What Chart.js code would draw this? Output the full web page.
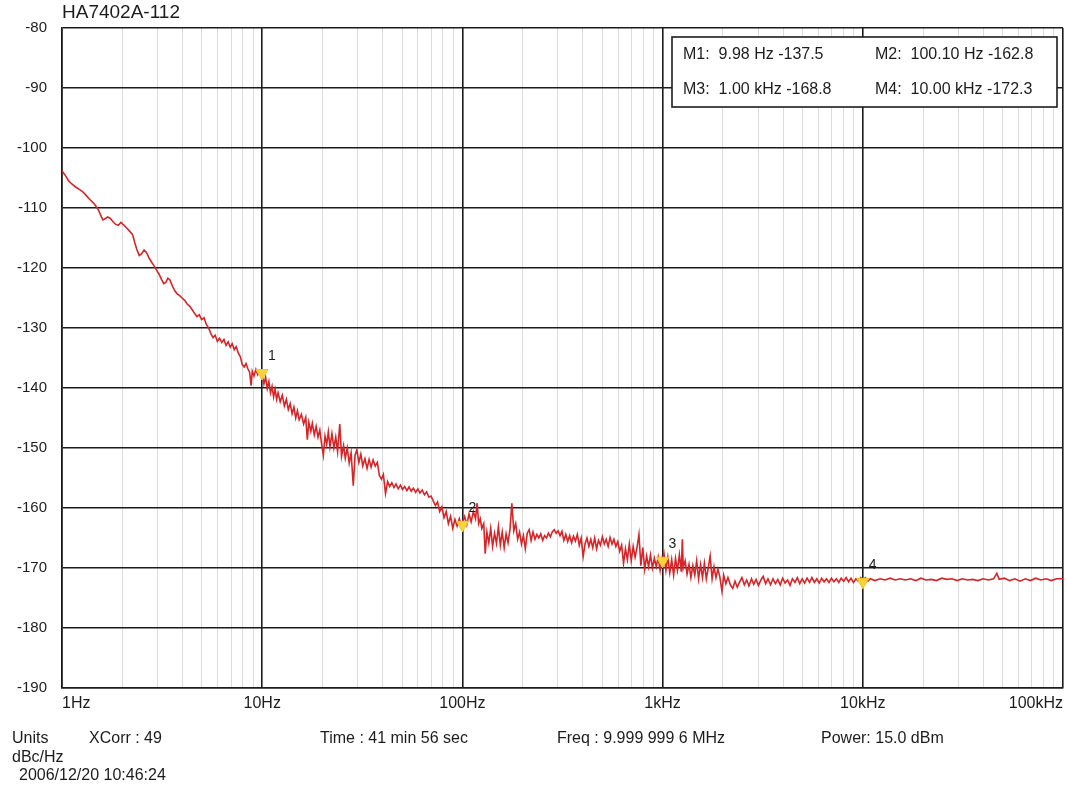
<!DOCTYPE html>
<html>
<head>
<meta charset="utf-8">
<script src="https://cdn.jsdelivr.net/npm/chart.js@4/dist/chart.umd.min.js"></script>
<style>
  body { margin: 0; background: #fff; }
</style>
</head>
<body>
<canvas id="grafico" width="1067" height="785"></canvas>
<script>
const freqHz = [
  1.00, 1.04, 1.08, 1.12, 1.17, 1.22, 1.27, 1.32, 1.37, 1.42, 1.47, 1.52, 1.56, 1.60, 1.64, 1.69, 1.74, 1.79, 1.85, 1.91,
  1.97, 2.03, 2.10, 2.18, 2.25, 2.31, 2.37, 2.43, 2.50, 2.57, 2.64, 2.72, 2.80, 2.88, 2.96, 3.05, 3.14, 3.22, 3.30, 3.38,
  3.46, 3.56, 3.66, 3.76, 3.87, 3.98, 4.10, 4.22, 4.35, 4.48, 4.60, 4.72, 4.85, 4.98, 5.12, 5.26, 5.40, 5.55, 5.68, 5.82,
  5.97, 6.12, 6.28, 6.44, 6.60, 6.76, 6.92, 7.08, 7.25, 7.42, 7.60, 7.78, 7.95, 8.12, 8.30, 8.48, 8.66, 8.80, 8.92, 9.10,
  9.30, 9.50, 9.70, 9.98, 10.2, 10.4, 10.6, 10.8, 11.0, 11.2, 11.4, 11.6, 11.8, 12.0, 12.3, 12.6, 12.9, 13.2, 13.5, 13.8,
  14.1, 14.4, 14.7, 15.0, 15.3, 15.7, 16.1, 16.5, 16.8, 17.1, 17.5, 17.8, 18.2, 18.6, 19.0, 19.4, 19.8, 20.2, 20.6, 21.0,
  21.4, 21.8, 22.3, 22.8, 23.3, 23.8, 24.4, 24.9, 25.5, 26.0, 26.6, 27.2, 27.8, 28.5, 29.1, 29.7, 30.4, 31.1, 31.8, 32.6,
  33.4, 34.2, 35.0, 35.8, 36.7, 37.6, 38.5, 39.4, 40.3, 41.3, 42.3, 43.3, 44.4, 45.5, 46.6, 47.8, 49.0, 50.2, 51.5, 52.8,
  54.1, 55.5, 56.9, 58.4, 59.9, 61.4, 63.0, 64.6, 66.3, 68.0, 69.7, 71.5, 73.3, 75.1, 77.0, 79.0, 81.0, 83.0, 85.1, 87.3,
  89.5, 91.8, 94.1, 96.5, 98.9, 100.1, 102.6, 105.2, 107.9, 110.6, 113.4, 116.3, 118.5, 120.5, 122.8, 125.0, 127.8, 130.0, 132.5, 135.5,
  138.5, 141.5, 144.8, 148.0, 151.3, 154.7, 158.1, 161.7, 165.3, 169.0, 172.8, 176.6, 180.6, 184.6, 188.7, 193.0, 197.3, 201.7, 206.2, 210.8,
  215.5, 220.4, 225.3, 230.4, 235.5, 240.8, 246.2, 251.7, 257.4, 263.1, 269.0, 275.1, 281.2, 287.5, 294.0, 300.6, 307.3, 314.2, 321.2, 328.4,
  335.8, 343.3, 351.0, 358.8, 366.9, 375.1, 383.5, 392.1, 400.9, 409.8, 419.0, 428.4, 438.0, 447.8, 457.8, 468.0, 478.5, 489.2, 500.2, 511.4,
  522.8, 534.5, 546.5, 558.7, 571.2, 584.0, 597.1, 610.5, 624.1, 638.1, 652.4, 667.0, 681.9, 697.2, 712.8, 728.8, 745.1, 761.8, 778.8, 796.3,
  814.1, 832.3, 851.0, 870.0, 889.5, 909.4, 929.8, 950.6, 971.9, 993.7, 1000, 1016, 1039, 1062, 1086, 1110, 1135, 1160, 1186, 1213,
  1240, 1255, 1268, 1296, 1325, 1355, 1385, 1416, 1448, 1480, 1513, 1547, 1582, 1617, 1653, 1690, 1728, 1767, 1806, 1847,
  1888, 1930, 1980, 2020, 2070, 2120, 2180, 2240, 2300, 2360, 2420, 2490, 2560, 2630, 2700, 2780, 2850, 2930, 3010, 3100,
  3180, 3270, 3360, 3460, 3560, 3660, 3760, 3870, 3980, 4090, 4210, 4330, 4450, 4580, 4710, 4840, 4980, 5120, 5270, 5420,
  5570, 5730, 5890, 6060, 6230, 6410, 6590, 6780, 6970, 7170, 7380, 7590, 7800, 8030, 8260, 8490, 8730, 8980, 9240, 9500,
  9770, 10000, 10300, 10600, 10900, 11500, 12200, 12900, 13700, 14500, 15400, 16300, 17300, 18400, 19500, 20700, 22000, 23300, 24800, 26300,
  27900, 29600, 31400, 33400, 35400, 37600, 39900, 42400, 45000, 46700, 48000, 51000, 54100, 57500, 61000, 64800, 68800, 73000, 77500, 82300,
  87400, 92800, 100000
];
const phaseNoise = [
  -103.8, -104.6, -105.5, -106.0, -106.5, -106.9, -107.3, -107.9, -108.5, -109.0, -109.6, -110.3, -111.2, -112.0, -111.8, -111.5, -111.7, -112.2, -112.7, -112.9,
  -112.4, -112.8, -113.3, -113.9, -114.4, -115.8, -117.0, -117.9, -117.6, -117.0, -117.4, -118.3, -119.0, -119.6, -120.3, -121.0, -121.9, -122.6, -122.4, -121.7,
  -122.0, -123.0, -123.8, -124.3, -124.6, -125.0, -125.4, -126.0, -126.4, -127.0, -127.6, -128.1, -127.8, -128.6, -128.3, -129.4, -130.0, -131.0, -131.6, -131.2,
  -132.2, -131.7, -132.4, -131.9, -132.9, -132.3, -133.2, -132.6, -133.6, -133.1, -134.2, -134.8, -136.1, -136.5, -135.9, -136.8, -137.4, -139.6, -137.2, -138.0,
  -136.9, -137.8, -137.2, -137.6, -139.3, -138.2, -140.1, -138.9, -140.8, -139.7, -141.5, -140.2, -141.9, -140.8, -142.3, -141.2, -143.0, -141.9, -143.6, -142.6,
  -144.3, -143.2, -145.0, -143.8, -145.3, -144.4, -146.0, -144.9, -148.6, -145.7, -147.2, -145.9, -147.8, -146.4, -148.2, -147.0, -149.3, -151.2, -148.0, -149.4,
  -147.3, -149.8, -147.6, -150.0, -148.2, -150.6, -146.0, -151.4, -149.6, -151.7, -150.0, -152.5, -150.8, -156.3, -151.2, -150.3, -152.4, -151.0, -153.0, -151.8,
  -153.4, -151.9, -153.2, -152.0, -153.0, -152.4, -154.6, -155.2, -154.4, -157.6, -155.6, -156.4, -155.8, -156.6, -156.0, -156.8, -156.2, -156.9, -156.4, -157.1,
  -156.5, -157.2, -156.7, -157.4, -156.8, -157.5, -157.0, -157.8, -157.3, -158.2, -158.0, -158.8, -159.6, -159.0, -160.6, -159.8, -161.6, -160.6, -162.6, -161.4,
  -163.4, -161.9, -163.0, -161.8, -163.0, -162.4, -161.4, -162.8, -161.0, -162.3, -160.6, -161.8, -159.2, -162.6, -161.8, -163.4, -162.6, -167.6, -164.0, -165.8,
  -163.4, -166.4, -164.2, -165.9, -163.1, -166.2, -164.0, -166.6, -164.3, -165.8, -163.6, -159.2, -163.8, -162.6, -165.2, -164.0, -166.0, -164.6, -166.8, -164.2,
  -163.6, -165.4, -164.0, -165.2, -164.4, -165.0, -164.3, -165.4, -164.6, -165.0, -164.2, -164.8, -164.0, -163.6, -164.2, -163.8, -164.6, -163.9, -165.4, -164.4,
  -165.6, -164.6, -165.8, -164.7, -165.5, -164.4, -166.2, -165.0, -168.1, -166.0, -165.0, -166.4, -165.2, -166.6, -165.0, -166.8, -165.4, -166.2, -164.8, -166.0,
  -165.2, -166.4, -164.9, -166.0, -165.2, -166.4, -165.6, -167.2, -166.2, -169.2, -166.8, -168.6, -166.0, -168.8, -166.4, -168.2, -166.6, -164.4, -169.6, -166.6,
  -170.2, -168.0, -169.8, -167.8, -170.0, -168.4, -169.8, -168.2, -170.4, -168.4, -168.8, -167.6, -170.4, -168.2, -170.8, -168.6, -171.2, -168.4, -170.4, -167.8,
  -170.6, -165.2, -170.0, -168.8, -171.0, -169.4, -171.6, -169.6, -171.2, -168.8, -171.8, -169.4, -171.6, -169.2, -171.8, -170.0, -168.0, -171.8, -169.8, -171.6,
  -170.2, -171.4, -173.9, -171.2, -172.6, -171.6, -172.8, -173.4, -172.2, -173.2, -172.4, -171.6, -172.8, -172.0, -173.0, -171.8, -172.7, -171.9, -172.9, -172.0,
  -171.4, -172.6, -171.8, -172.8, -171.8, -172.6, -171.9, -172.8, -171.7, -172.5, -172.0, -172.9, -171.8, -172.4, -171.6, -172.6, -171.8, -172.5, -171.7, -172.4,
  -171.6, -172.4, -171.8, -172.5, -171.7, -172.3, -171.8, -172.4, -171.7, -172.3, -171.8, -172.4, -171.7, -172.2, -171.6, -172.3, -171.7, -172.4, -171.8, -172.2,
  -171.6, -172.0, -171.6, -172.2, -171.8, -172.1, -171.8, -172.0, -171.7, -172.0, -171.8, -172.0, -171.8, -172.1, -171.7, -172.0, -171.9, -172.1, -171.7, -171.9,
  -171.8, -172.1, -171.8, -172.0, -171.9, -172.1, -171.8, -172.0, -171.8, -170.9, -171.9, -171.7, -172.1, -171.8, -172.2, -171.8, -172.1, -171.7, -172.0, -171.8,
  -172.1, -171.8, -171.8
];

// Marcadores M1..M4
const markerFreq = [9.98, 100.10, 1000, 10000];
const markerLevel = [-137.5, -162.8, -168.8, -172.3];
const markerNames = ['1', '2', '3', '4'];
const markerBoxText = [
  'M1:  9.98 Hz -137.5', 'M2:  100.10 Hz -162.8',
  'M3:  1.00 kHz -168.8', 'M4:  10.00 kHz -172.3'
];

// Etiquetas de los ejes
const decadeValues = [1, 10, 100, 1000, 10000, 100000];
const decadeLabels = ['1Hz', '10Hz', '100Hz', '1kHz', '10kHz', '100kHz'];
const yTicks = [-80, -90, -100, -110, -120, -130, -140, -150, -160, -170, -180, -190];

const title = 'HA7402A-112';
const infoLine = [
  { text: 'Units', x: 12 },
  { text: 'XCorr : 49', x: 89 },
  { text: 'Time : 41 min 56 sec', x: 320 },
  { text: 'Freq : 9.999 999 6 MHz', x: 557 },
  { text: 'Power: 15.0 dBm', x: 821 }
];

const FONT = 'Arial, "Liberation Sans", sans-serif';
const INK = '#1c1c1c';

function isDecade(v) {
  const l = Math.log10(v);
  return Math.abs(l - Math.round(l)) < 1e-6;
}

// Textos extra: título, etiquetas de frecuencia, recuadro de marcadores, pie
const textosPlugin = {
  id: 'textos',
  afterDraw(chart) {
    const c = chart.ctx;
    const xs = chart.scales.x;
    const ys = chart.scales.y;
    const area = chart.chartArea;
    c.save();
    c.fillStyle = INK;
    c.textBaseline = 'middle';

    c.font = '19px ' + FONT;
    c.textAlign = 'left';
    c.fillText(title, area.left, 13);

    c.font = '16px ' + FONT;
    decadeValues.forEach((v, i) => {
      const px = xs.getPixelForValue(v);
      if (i === 0) { c.textAlign = 'left'; c.fillText(decadeLabels[i], area.left, 704); }
      else if (i === decadeValues.length - 1) { c.textAlign = 'right'; c.fillText(decadeLabels[i], area.right, 704); }
      else { c.textAlign = 'center'; c.fillText(decadeLabels[i], px, 704); }
    });

    c.textAlign = 'left';
    infoLine.forEach(t => c.fillText(t.text, t.x, 739));
    c.fillText('dBc/Hz', 12, 758);
    c.fillText('2006/12/20 10:46:24', 19, 776);

    // números de los marcadores
    c.font = '14px ' + FONT;
    markerFreq.forEach((f, i) => {
      c.fillText(markerNames[i], xs.getPixelForValue(f) + 6, ys.getPixelForValue(markerLevel[i]) - 17);
    });

    // recuadro de marcadores
    c.fillStyle = '#fff';
    c.fillRect(672, 37, 385, 70);
    c.strokeStyle = INK;
    c.lineWidth = 1.6;
    c.strokeRect(672, 37, 385, 70);
    c.fillStyle = INK;
    c.font = '16px ' + FONT;
    c.fillText(markerBoxText[0], 683, 55);
    c.fillText(markerBoxText[1], 875, 55);
    c.fillText(markerBoxText[2], 683, 90);
    c.fillText(markerBoxText[3], 875, 90);
    c.restore();
  }
};

new Chart(document.getElementById('grafico').getContext('2d'), {
  type: 'line',
  data: {
    datasets: [
      {
        type: 'scatter',
        data: markerFreq.map((f, i) => ({ x: f, y: markerLevel[i] })),
        pointStyle: 'triangle',
        rotation: 180,
        pointRadius: 7,
        backgroundColor: '#f8d43a',
        borderColor: '#f2c62a',
        borderWidth: 1
      },
      {
        data: freqHz.map((f, i) => ({ x: f, y: phaseNoise[i] })),
        borderColor: '#d62528',
        borderWidth: 1.6,
        pointRadius: 0,
        tension: 0,
        fill: false
      }
    ]
  },
  options: {
    responsive: false,
    animation: false,
    devicePixelRatio: 1,
    layout: { autoPadding: false, padding: { top: 28, right: 4, bottom: 97, left: 0 } },
    plugins: { legend: { display: false }, tooltip: { enabled: false } },
    scales: {
      x: {
        type: 'logarithmic',
        min: 1,
        max: 100000,
        afterBuildTicks(scale) {
          const t = [];
          decadeValues.forEach(d => {
            if (d === 100000) { t.push({ value: d }); return; }
            for (let m = 1; m <= 9; m++) t.push({ value: d * m });
          });
          scale.ticks = t;
        },
        afterFit(scale) { scale.height = 0; },
        ticks: { display: false, autoSkip: false },
        grid: {
          drawTicks: false,
          color: ctx => (ctx.tick && isDecade(ctx.tick.value)) ? INK : '#dcdcdc',
          lineWidth: ctx => (ctx.tick && isDecade(ctx.tick.value)) ? 1.6 : 1
        },
        border: { color: INK, width: 1.6 }
      },
      y: {
        min: -190,
        max: -80,
        afterBuildTicks(scale) { scale.ticks = yTicks.map(v => ({ value: v })); },
        afterFit(scale) { scale.width = 62; },
        ticks: { color: INK, font: { family: FONT, size: 15 }, padding: 15 },
        grid: { drawTicks: false, color: INK, lineWidth: 1.6 },
        border: { color: INK, width: 1.6 }
      }
    }
  },
  plugins: [textosPlugin]
});
</script>
</body>
</html>
